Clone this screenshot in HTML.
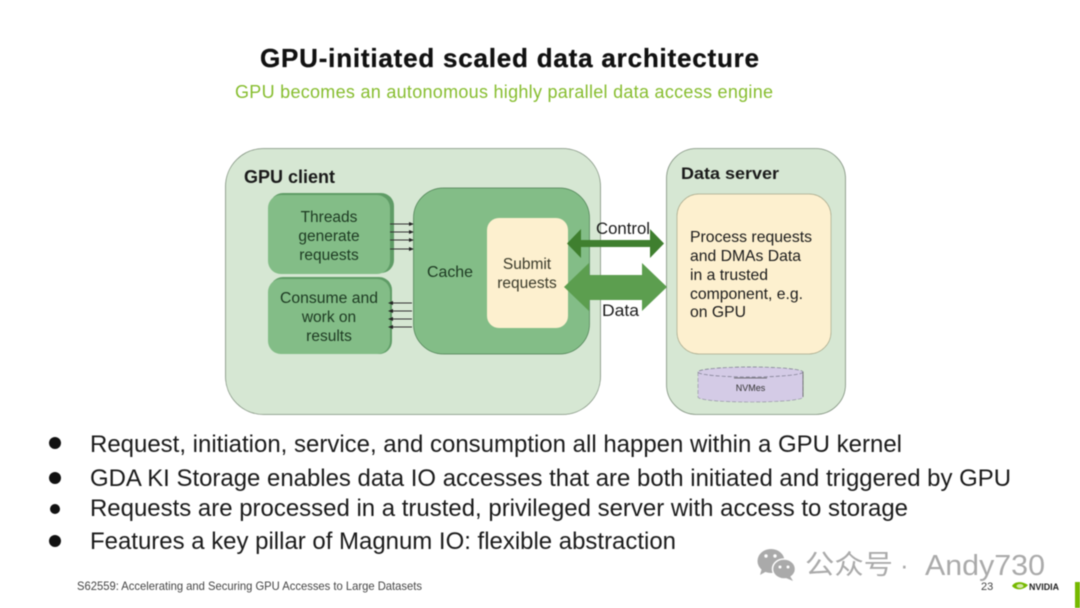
<!DOCTYPE html>
<html><head><meta charset="utf-8"><style>
html,body{margin:0;padding:0;background:#fff;width:1080px;height:608px;overflow:hidden}
svg{display:block;filter:blur(.5px)}
text{font-family:"Liberation Sans","Noto Sans CJK SC",sans-serif;fill:#1a1a1a}
</style></head><body>
<svg width="1080" height="608" viewBox="0 0 1080 608" xmlns="http://www.w3.org/2000/svg">
<text x="260" y="67" font-size="26" font-weight="700" stroke="#111" stroke-width=".3" textLength="499" lengthAdjust="spacing" style="fill:#111">GPU-initiated scaled data architecture</text>
<text x="235" y="98" font-size="18" textLength="538" lengthAdjust="spacing" style="fill:#86bd2e">GPU becomes an autonomous highly parallel data access engine</text>

<rect x="225.500" y="148.500" width="375" height="266" rx="38" fill="#d6e7d3" stroke="#7f907d" stroke-width=".8"/>
<rect x="666.500" y="148.500" width="179" height="266" rx="30" fill="#d6e7d3" stroke="#7f907d" stroke-width=".8"/>
<text x="244" y="183" font-size="18" font-weight="700" textLength="91" lengthAdjust="spacingAndGlyphs">GPU client</text>
<text x="681" y="179" font-size="17" font-weight="700" textLength="98" lengthAdjust="spacingAndGlyphs">Data server</text>

<rect x="270" y="193" width="124" height="80" rx="13" fill="#5f9c66"/>
<rect x="268" y="195" width="122" height="79" rx="13" fill="#83bd87"/>
<rect x="270" y="277" width="122" height="77" rx="13" fill="#5f9c66"/>
<rect x="268" y="279" width="122" height="75" rx="13" fill="#83bd87"/>
<g font-size="15.500" text-anchor="middle">
<text x="329" y="222" style="fill:#1d3a22">Threads</text>
<text x="329" y="241" style="fill:#1d3a22">generate</text>
<text x="329" y="260" style="fill:#1d3a22">requests</text>
<text x="329" y="303" textLength="98" lengthAdjust="spacingAndGlyphs" style="fill:#1d3a22">Consume and</text>
<text x="329" y="322" style="fill:#1d3a22">work on</text>
<text x="329" y="341" style="fill:#1d3a22">results</text>
</g>

<g stroke="#333" stroke-width="1">
<path d="M390 224H411M390 232H411M390 240H411M390 249H411"/>
<path d="M391 303H412M391 311H412M391 319H412M391 327H412"/>
</g>
<g fill="#222">
<path d="M409 222l5 2-5 2zM409 230l5 2-5 2zM409 238l5 2-5 2zM409 247l5 2-5 2z"/>
<path d="M393 301l-5 2 5 2zM393 309l-5 2 5 2zM393 317l-5 2 5 2zM393 325l-5 2 5 2z"/>
</g>

<rect x="413.500" y="188" width="176" height="166" rx="30" fill="#83bd87" stroke="#4b7e52" stroke-width=".7"/>
<text x="427" y="277" font-size="16" textLength="46" lengthAdjust="spacingAndGlyphs" style="fill:#1d3a22">Cache</text>
<rect x="487" y="218" width="81" height="110" rx="12" fill="#fdf0cf"/>
<g font-size="15.500" text-anchor="middle">
<text x="527" y="269" style="fill:#3a3a2a">Submit</text>
<text x="527" y="288" style="fill:#3a3a2a">requests</text>
</g>

<path d="M567 243.500L581 229V240H650V229L664 243.500L650 258V247H581V258Z" fill="#3f7f2f"/>
<path d="M564 287L589 263V275H642V263L667 287L642 311V300H589V311Z" fill="#5c9e4f"/>
<text x="596" y="234" font-size="17" textLength="54" lengthAdjust="spacingAndGlyphs">Control</text>
<text x="602" y="316" font-size="17" textLength="37" lengthAdjust="spacingAndGlyphs">Data</text>

<rect x="677" y="194" width="154" height="160" rx="22" fill="#fdf0cf" stroke="#a8a88a" stroke-width=".7"/>
<g font-size="16">
<text x="690" y="242" textLength="122" lengthAdjust="spacingAndGlyphs">Process requests</text>
<text x="690" y="261" textLength="111" lengthAdjust="spacingAndGlyphs">and DMAs Data</text>
<text x="690" y="280" textLength="78" lengthAdjust="spacingAndGlyphs">in a trusted</text>
<text x="690" y="299" textLength="113" lengthAdjust="spacingAndGlyphs">component, e.g.</text>
<text x="690" y="317" textLength="56" lengthAdjust="spacingAndGlyphs">on GPU</text>
</g>

<path d="M698 372V397C698 400 721 402 750.500 402S803 400 803 397V372Z" fill="#d4cbe6" stroke="#8a8a9a" stroke-width=".6" stroke-dasharray="4 2"/>
<ellipse cx="750.500" cy="372" rx="52.500" ry="5" fill="#d4cbe6" stroke="#77778a" stroke-width=".7" stroke-dasharray="4 2"/>
<path d="M803 372V397" stroke="#666" stroke-width=".8"/>
<path d="M734 378H767" stroke="#555" stroke-width=".8"/>
<text x="750.500" y="391" font-size="9" text-anchor="middle" style="fill:#333">NVMes</text>

<circle cx="55" cy="443" r="6" fill="#111"/>
<circle cx="55" cy="478" r="6" fill="#111"/>
<circle cx="55" cy="509" r="5" fill="#111"/>
<circle cx="55" cy="541" r="6" fill="#111"/>
<g font-size="24.500">
<text x="90" y="452" textLength="812" lengthAdjust="spacingAndGlyphs">Request, initiation, service, and consumption all happen within a GPU kernel</text>
<text x="90" y="486" textLength="921" lengthAdjust="spacingAndGlyphs">GDA KI Storage enables data IO accesses that are both initiated and triggered by GPU</text>
<text x="90" y="516" textLength="818" lengthAdjust="spacingAndGlyphs">Requests are processed in a trusted, privileged server with access to storage</text>
<text x="90" y="549" textLength="586" lengthAdjust="spacingAndGlyphs">Features a key pillar of Magnum IO: flexible abstraction</text>
</g>
<text x="77" y="590" font-size="12" textLength="345" lengthAdjust="spacingAndGlyphs" style="fill:#444">S62559: Accelerating and Securing GPU Accesses to Large Datasets</text>

<g fill="#aaa">
<ellipse cx="771" cy="561" rx="13.500" ry="12"/>
<path d="M762 568l-2 7 7-4z"/>
<ellipse cx="784" cy="569" rx="11.500" ry="10" stroke="#fff" stroke-width="1.500"/>
<path d="M790 576l3 5-7-3z"/>
</g>
<g fill="#fff"><circle cx="766" cy="556" r="1.700"/><circle cx="775" cy="556" r="1.700"/><circle cx="780" cy="567" r="1.500"/><circle cx="788" cy="567" r="1.500"/></g>
<text x="805" y="574" font-size="27" textLength="88" lengthAdjust="spacingAndGlyphs" style="fill:#aaa">公众号</text>
<text x="900" y="574" font-size="26" style="fill:#aaa">·</text>
<text x="925" y="575" font-size="29" textLength="120" lengthAdjust="spacingAndGlyphs" style="fill:#aaa">Andy730</text>

<text x="981" y="590" font-size="11" style="fill:#444">23</text>
<path d="M1012 586C1015 581 1022 581 1028 585C1024 590 1016 591 1012 586Z" fill="#76b900"/>
<ellipse cx="1020" cy="586" rx="3.500" ry="2" fill="#d5e8a8"/>
<text x="1029" y="590" font-size="9.500" font-weight="700" textLength="30" lengthAdjust="spacingAndGlyphs" style="fill:#222">NVIDIA</text>
<rect x="1075" y="582" width="5" height="26" fill="#76b900"/>
</svg>
</body></html>
